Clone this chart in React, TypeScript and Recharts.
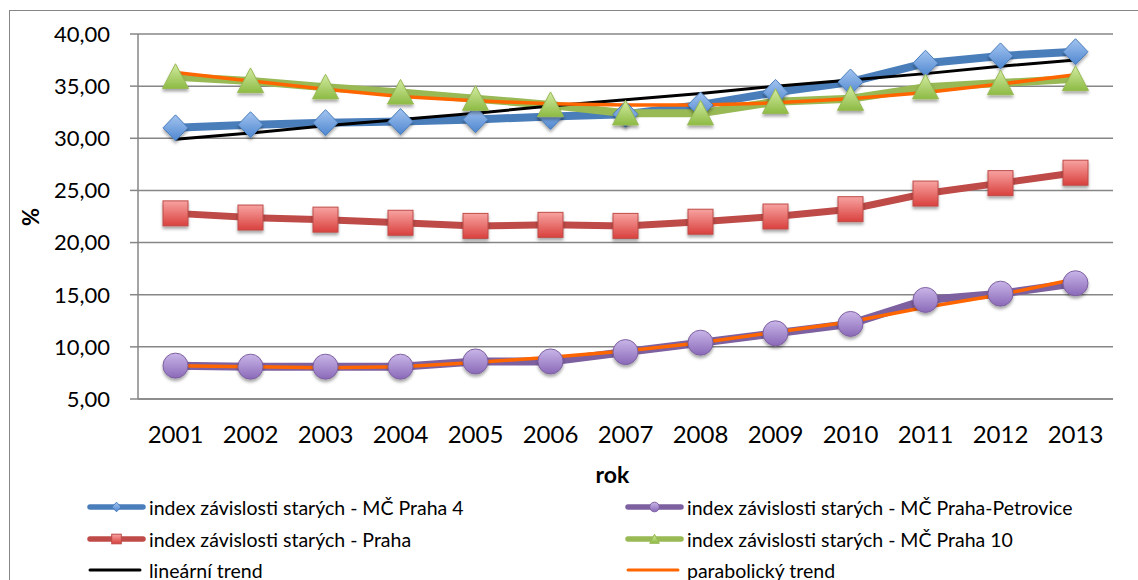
import { LineChart, Line, XAxis, YAxis, CartesianGrid } from 'recharts';

const years = ['2001', '2002', '2003', '2004', '2005', '2006', '2007', '2008', '2009', '2010', '2011', '2012', '2013'];
const praha4 = [31.0, 31.3, 31.5, 31.6, 31.8, 32.1, 32.3, 33.2, 34.4, 35.4, 37.2, 37.9, 38.3];
const petrovice = [8.2, 8.1, 8.1, 8.1, 8.6, 8.6, 9.5, 10.4, 11.3, 12.2, 14.5, 15.1, 16.1];
const praha = [22.8, 22.4, 22.2, 21.9, 21.6, 21.7, 21.6, 22.0, 22.5, 23.2, 24.7, 25.7, 26.7];
const praha10 = [35.9, 35.5, 34.9, 34.4, 33.8, 33.2, 32.4, 32.4, 33.5, 33.8, 34.9, 35.3, 35.7];
// trend lines
const linearTrend = [29.9, 30.5, 31.2, 31.8, 32.4, 33.1, 33.7, 34.3, 35.0, 35.6, 36.2, 36.9, 37.5];
const parabolic10 = [36.3, 35.5, 34.7, 34.0, 33.6, 33.3, 33.2, 33.2, 33.4, 33.8, 34.4, 35.2, 36.1];
const parabolicPetrovice = [8.2, 8.1, 8.0, 8.1, 8.5, 9.0, 9.6, 10.4, 11.4, 12.4, 13.8, 15.0, 16.5];
const yTicks = [5, 10, 15, 20, 25, 30, 35, 40];

const legendNames = [
  'index závislosti starých - MČ Praha 4',
  'index závislosti starých - MČ Praha-Petrovice',
  'index závislosti starých - Praha',
  'index závislosti starých - MČ Praha 10',
  'lineární trend',
  'parabolický trend',
];

const data = years.map((rok, i) => ({
  rok,
  praha4: praha4[i],
  petrovice: petrovice[i],
  praha: praha[i],
  praha10: praha10[i],
  linearTrend: linearTrend[i],
  parabolic10: parabolic10[i],
  parabolicPetrovice: parabolicPetrovice[i],
}));

const FONT = 'Lato, "Open Sans", sans-serif';
const GRID = '#868686';

const Diamond = ({ cx, cy, s = 13, shadow = true }: any) => (
  <path
    d={`M${cx},${cy - s} L${cx + s * 0.96},${cy} L${cx},${cy + s} L${cx - s * 0.96},${cy} Z`}
    fill="url(#gBlue)"
    stroke="#4A7EBB"
    strokeWidth={1}
    filter={shadow ? 'url(#shadow)' : undefined}
  />
);
const Square = ({ cx, cy, s = 12.5, shadow = true }: any) => (
  <rect
    x={cx - s}
    y={cy - s}
    width={s * 2}
    height={s * 2}
    fill="url(#gRed)"
    stroke="#BE4B48"
    strokeWidth={1}
    filter={shadow ? 'url(#shadow)' : undefined}
  />
);
const Circle = ({ cx, cy, s = 12.5, shadow = true }: any) => (
  <circle cx={cx} cy={cy} r={s} fill="url(#gPurple)" stroke="#7D60A0" strokeWidth={1} filter={shadow ? 'url(#shadow)' : undefined} />
);
const Triangle = ({ cx, cy, s = 13, shadow = true }: any) => (
  <path
    d={`M${cx},${cy - s} L${cx + s},${cy + s * 0.9} L${cx - s},${cy + s * 0.9} Z`}
    fill="url(#gGreen)"
    stroke="#98B954"
    strokeWidth={1}
    filter={shadow ? 'url(#shadow)' : undefined}
  />
);

const dotOf = (Shape: any, name: string) => (props: any) => {
  if (props.cx == null || props.cy == null) return <g key={`${name}-${props.index}`} />;
  return (
    <g key={`${name}-${props.index}`}>
      <Shape cx={props.cx} cy={props.cy} />
    </g>
  );
};

const Defs = () => (
  <defs>
    <linearGradient id="gBlue" x1="0" y1="0" x2="0" y2="1">
      <stop offset="0%" stopColor="#A3C4F0" />
      <stop offset="100%" stopColor="#4F87D0" />
    </linearGradient>
    <linearGradient id="gRed" x1="0" y1="0" x2="0" y2="1">
      <stop offset="0%" stopColor="#F7A3A1" />
      <stop offset="100%" stopColor="#D9413E" />
    </linearGradient>
    <linearGradient id="gPurple" x1="0" y1="0" x2="0" y2="1">
      <stop offset="0%" stopColor="#C9B6E8" />
      <stop offset="100%" stopColor="#8A69B8" />
    </linearGradient>
    <linearGradient id="gGreen" x1="0" y1="0" x2="0" y2="1">
      <stop offset="0%" stopColor="#D3EBA2" />
      <stop offset="100%" stopColor="#8DBB44" />
    </linearGradient>
    <filter id="shadow" x="-50%" y="-50%" width="200%" height="200%">
      <feDropShadow dx="0" dy="2.5" stdDeviation="1.8" floodColor="#000" floodOpacity="0.35" />
    </filter>
  </defs>
);

const Swatch = ({ color, Marker, thin }: any) => (
  <svg width={60} height={14} style={{ display: 'block' }}>
    <Defs />
    <line x1={3} y1={7} x2={thin ? 53 : 56} y2={7} stroke={color} strokeWidth={thin ? 3 : 5.5} strokeLinecap="round" />
    {Marker ? <Marker cx={29.5} cy={7} s={4.8} shadow={false} /> : null}
  </svg>
);

const legendItems = [
  { name: legendNames[0], color: '#4A7EBB', Marker: Diamond, left: 87, top: 499 },
  { name: legendNames[1], color: '#7D60A0', Marker: Circle, left: 625, top: 499 },
  { name: legendNames[2], color: '#BE4B48', Marker: Square, left: 87, top: 531 },
  { name: legendNames[3], color: '#98B954', Marker: Triangle, left: 625, top: 531 },
  { name: legendNames[4], color: '#000000', Marker: null, left: 87, top: 562, thin: true },
  { name: legendNames[5], color: '#FF6600', Marker: null, left: 625, top: 562, thin: true },
];

export default function App() {
  return (
    <div
      style={{
        position: 'fixed',
        left: 0,
        top: 0,
        width: 1138,
        height: 580,
        overflow: 'hidden',
        background: '#fff',
        fontFamily: FONT,
      }}
    >
      <div
        style={{
          position: 'absolute',
          left: 9,
          top: 10,
          width: 1300,
          height: 700,
          border: `1.5px solid ${GRID}`,
        }}
      />
      <div style={{ position: 'absolute', left: 0, top: 0 }}>
        <LineChart width={1138} height={580} data={data} margin={{ top: 34, right: 25, bottom: 121, left: 10 }}>
          <Defs />
          <CartesianGrid vertical={false} stroke={GRID} strokeWidth={1.5} />
          <XAxis
            dataKey="rok"
            scale="band"
            axisLine={{ stroke: GRID, strokeWidth: 1.5 }}
            tickLine={false}
            tickMargin={21}
            height={60}
            tick={{ fill: '#000', fontSize: 24, fontFamily: FONT }}
            label={{
              value: 'rok',
              content: (p: any) => (
                <text
                  x={p.viewBox.x + p.viewBox.width / 2 - 13}
                  y={483}
                  textAnchor="middle"
                  fontFamily={FONT}
                  fontWeight="bold"
                  fontSize={23}
                  fill="#000"
                >
                  rok
                </text>
              ),
            }}
          />
          <YAxis
            domain={[5, 40]}
            ticks={yTicks}
            interval={0}
            width={128}
            axisLine={{ stroke: GRID, strokeWidth: 1.5 }}
            tickLine={{ stroke: GRID, strokeWidth: 1.5 }}
            tickSize={8}
            tickMargin={20}
            tickFormatter={(v: number) => v.toFixed(2).replace('.', ',')}
            tick={{ fill: '#000', fontSize: 22, fontFamily: FONT }}
            label={{
              value: '%',
              content: () => (
                <text
                  x={30}
                  y={217}
                  transform="rotate(-90 30 217)"
                  textAnchor="middle"
                  dominantBaseline="central"
                  fontFamily={FONT}
                  fontWeight="bold"
                  fontSize={22}
                  fill="#000"
                >
                  %
                </text>
              ),
            }}
          />
          <Line
            dataKey="praha4"
            name={legendNames[0]}
            stroke="#4A7EBB"
            strokeWidth={8}
            dot={dotOf(Diamond, 'pr4')}
            isAnimationActive={false}
          />
          <Line
            dataKey="petrovice"
            name={legendNames[1]}
            stroke="#7D60A0"
            strokeWidth={8}
            dot={dotOf(Circle, 'pet')}
            isAnimationActive={false}
          />
          <Line
            dataKey="praha"
            name={legendNames[2]}
            stroke="#BE4B48"
            strokeWidth={7}
            dot={dotOf(Square, 'pr')}
            isAnimationActive={false}
          />
          <Line
            dataKey="praha10"
            name={legendNames[3]}
            stroke="#98B954"
            strokeWidth={8}
            dot={dotOf(Triangle, 'pr10')}
            isAnimationActive={false}
          />
          <Line
            dataKey="linearTrend"
            name={legendNames[4]}
            stroke="#000"
            strokeWidth={3}
            dot={false}
            isAnimationActive={false}
          />
          <Line
            dataKey="parabolic10"
            name={legendNames[5]}
            stroke="#FF6600"
            strokeWidth={3.5}
            dot={false}
            isAnimationActive={false}
          />
          <Line
            dataKey="parabolicPetrovice"
            name={legendNames[5]}
            stroke="#FF6600"
            strokeWidth={3.5}
            dot={false}
            isAnimationActive={false}
          />
        </LineChart>
      </div>
      {legendItems.map((it) => (
        <div
          key={it.name}
          style={{
            position: 'absolute',
            left: it.left,
            top: it.top,
            display: 'flex',
            alignItems: 'center',
            height: 16,
            fontSize: 19.5,
            color: '#000',
            whiteSpace: 'nowrap',
          }}
        >
          <Swatch color={it.color} Marker={it.Marker} thin={it.thin} />
          <span style={{ marginLeft: 2 }}>{it.name}</span>
        </div>
      ))}
    </div>
  );
}
